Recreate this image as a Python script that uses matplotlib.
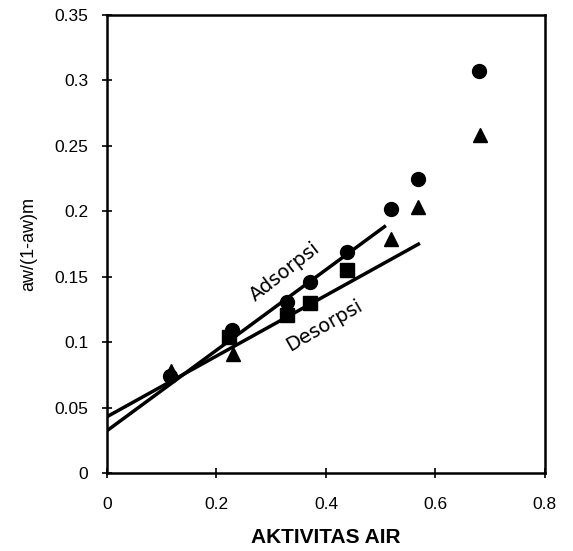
import numpy as np
import matplotlib
matplotlib.use('Agg')
import matplotlib.pyplot as plt

plt.rcParams['font.family'] = ['Liberation Sans', 'DejaVu Sans']

# datos
x_bulat = [0.115, 0.228, 0.328, 0.370, 0.438, 0.519, 0.569, 0.679]
y_bulat = [0.074, 0.109, 0.131, 0.146, 0.169, 0.2015, 0.225, 0.307]

x_kotak = [0.222, 0.328, 0.370, 0.438]
y_kotak = [0.104, 0.121, 0.130, 0.155]

x_segitiga = [0.117, 0.231, 0.519, 0.569, 0.681]
y_segitiga = [0.078, 0.091, 0.179, 0.203, 0.258]

# rectas ajustadas (x inicio, x fin, intercepto, pendiente)
ads_x = [0.0, 0.5095]
ads_b, ads_m = 0.0323, 0.3076
des_x = [0.0, 0.5717]
des_b, des_m = 0.043, 0.2318

xticks = [0, 0.2, 0.4, 0.6, 0.8]
xtick_labels = ['0', '0.2', '0.4', '0.6', '0.8']
yticks = [0, 0.05, 0.1, 0.15, 0.2, 0.25, 0.3, 0.35]
ytick_labels = ['0', '0.05', '0.1', '0.15', '0.2', '0.25', '0.3', '0.35']

fig = plt.figure(figsize=(5.73, 5.51), dpi=100)
ax = fig.add_axes([0.1867, 0.1416, 0.7643, 0.8312])

xa = np.array(ads_x)
ax.plot(xa, ads_b + ads_m * xa, color='black', lw=2.5, solid_capstyle='butt')
xd = np.array(des_x)
ax.plot(xd, des_b + des_m * xd, color='black', lw=2.5, solid_capstyle='butt')

ax.plot(x_bulat, y_bulat, 'o', color='black', ms=10, ls='none')
ax.plot(x_kotak, y_kotak, 's', color='black', ms=9.5, ls='none')
ax.plot(x_segitiga, y_segitiga, '^', color='black', ms=10, ls='none')

ax.text(0.325, 0.154, 'Adsorpsi', rotation=38, fontsize=14,
        family='DejaVu Sans', ha='center', va='center')
ax.text(0.397, 0.113, 'Desorpsi', rotation=30, fontsize=14,
        family='DejaVu Sans', ha='center', va='center')

ax.set_xlim(0, 0.8)
ax.set_ylim(0, 0.35)
ax.set_xticks(xticks)
ax.set_xticklabels(xtick_labels, fontsize=12.5)
ax.set_yticks(yticks)
ax.set_yticklabels(ytick_labels, fontsize=12.5)
ax.tick_params(direction='inout', length=7, width=1.2)
ax.tick_params(axis='x', pad=14)
ax.tick_params(axis='y', pad=10)
for s in ax.spines.values():
    s.set_linewidth(1.8)

ax.set_xlabel('AKTIVITAS AIR', fontsize=15, fontweight='bold', labelpad=11)
ax.set_ylabel('aw/(1-aw)m', fontsize=13, labelpad=12)

fig.savefig('out.png', dpi=100)
